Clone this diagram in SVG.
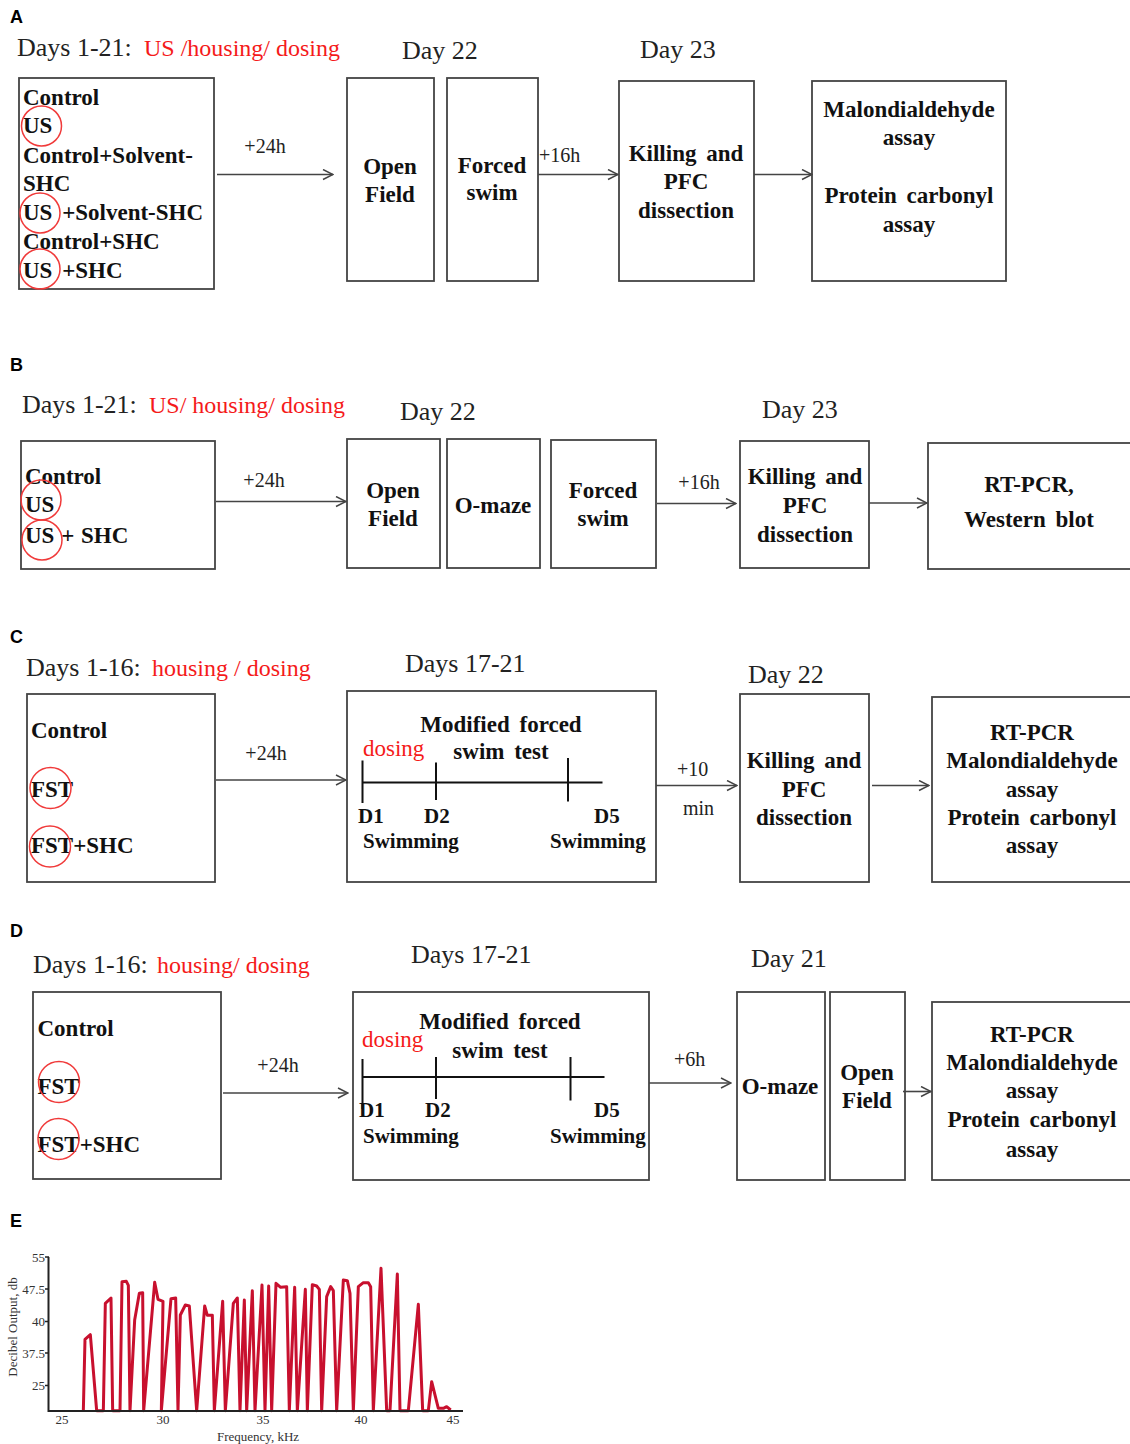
<svg xmlns="http://www.w3.org/2000/svg" width="1130" height="1444" viewBox="0 0 1130 1444">
<style>
.box{fill:#fff;stroke:#444;stroke-width:1.8}
.b{font-family:"Liberation Serif",serif;font-weight:bold;font-size:23px;fill:#111;word-spacing:4px}
.m{text-anchor:middle}
.s{font-size:21px;word-spacing:0}
.h{font-family:"Liberation Serif",serif;font-size:26px;fill:#222}
.r{font-family:"Liberation Serif",serif;font-size:24px;fill:#f51a1a}
.lbl{font-family:"Liberation Serif",serif;font-size:20px;fill:#222}
.pl{font-family:"Liberation Sans",Arial,sans-serif;font-weight:bold;font-size:18px;fill:#000}
.circ{fill:none;stroke:#f03a3a;stroke-width:1.5}
.conn{stroke:#444;stroke-width:1.6;fill:none;marker-end:url(#ah)}
.tl{stroke:#111;stroke-width:2;fill:none}
.ax{font-family:"Liberation Serif",serif;font-size:13px;fill:#333}
</style>
<defs>
<marker id="ah" markerUnits="userSpaceOnUse" markerWidth="12" markerHeight="12" viewBox="0 0 12 12" refX="11" refY="6" orient="auto">
<path d="M1,1 L11,6 L1,11" fill="none" stroke="#444" stroke-width="1.5"/>
</marker>
</defs>
<rect width="1130" height="1444" fill="#fff"/>

<!-- Panel A -->
<g id="panelA-labels">
<text class="pl" x="10" y="23">A</text>
<text class="h" x="17" y="56">Days 1-21:</text>
<text class="r" x="144" y="56">US /housing/ dosing</text>
<text class="h" x="402" y="59">Day 22</text>
<text class="h" x="640" y="58">Day 23</text>
</g>
<g id="A-groups">
<rect class="box" x="19" y="78" width="195" height="211"/>
<text class="b" x="23" y="105">Control</text>
<text class="b" x="23" y="133">US</text>
<text class="b" x="23" y="163">Control+Solvent-</text>
<text class="b" x="23" y="191">SHC</text>
<text class="b" x="23" y="220">US +Solvent-SHC</text>
<text class="b" x="23" y="249">Control+SHC</text>
<text class="b" x="23" y="278">US +SHC</text>
<circle class="circ" cx="41.5" cy="126" r="20"/>
<circle class="circ" cx="40" cy="213" r="20"/>
<circle class="circ" cx="40" cy="269" r="20"/>
</g>
<g id="A-openfield">
<rect class="box" x="347" y="78" width="87" height="203"/>
<text class="b m" x="390" y="174">Open</text>
<text class="b m" x="390" y="202">Field</text>
</g>
<g id="A-forcedswim">
<rect class="box" x="447" y="78" width="91" height="203"/>
<text class="b m" x="492" y="173">Forced</text>
<text class="b m" x="492" y="200">swim</text>
</g>
<g id="A-killing">
<rect class="box" x="619" y="81" width="135" height="200"/>
<text class="b m" x="686" y="161">Killing and</text>
<text class="b m" x="686" y="189">PFC</text>
<text class="b m" x="686" y="218">dissection</text>
</g>
<g id="A-assays">
<rect class="box" x="812" y="81" width="194" height="200"/>
<text class="b m" x="909" y="117">Malondialdehyde</text>
<text class="b m" x="909" y="145">assay</text>
<text class="b m" x="909" y="203">Protein carbonyl</text>
<text class="b m" x="909" y="232">assay</text>
</g>

<!-- Panel B -->
<g id="panelB-labels">
<text class="pl" x="10" y="371">B</text>
<text class="h" x="22" y="413">Days 1-21:</text>
<text class="r" x="149" y="413">US/ housing/ dosing</text>
<text class="h" x="400" y="420">Day 22</text>
<text class="h" x="762" y="418">Day 23</text>
</g>
<g id="B-groups">
<rect class="box" x="21" y="441" width="194" height="128"/>
<text class="b" x="25" y="484">Control</text>
<text class="b" x="25" y="512">US</text>
<text class="b" x="25" y="543" style="word-spacing:1px">US + SHC</text>
<circle class="circ" cx="41" cy="500" r="20"/>
<circle class="circ" cx="42" cy="540" r="20"/>
</g>
<g id="B-openfield">
<rect class="box" x="347" y="439" width="93" height="129"/>
<text class="b m" x="393" y="498">Open</text>
<text class="b m" x="393" y="526">Field</text>
</g>
<g id="B-omaze">
<rect class="box" x="447" y="439" width="93" height="129"/>
<text class="b m" x="493" y="513">O-maze</text>
</g>
<g id="B-forcedswim">
<rect class="box" x="551" y="440" width="105" height="128"/>
<text class="b m" x="603" y="498">Forced</text>
<text class="b m" x="603" y="526">swim</text>
</g>
<g id="B-killing">
<rect class="box" x="740" y="441" width="129" height="127"/>
<text class="b m" x="805" y="484">Killing and</text>
<text class="b m" x="805" y="513">PFC</text>
<text class="b m" x="805" y="542">dissection</text>
</g>
<g id="B-analysis">
<rect class="box" x="928" y="443" width="210" height="126"/>
<text class="b m" x="1029" y="492">RT-PCR,</text>
<text class="b m" x="1029" y="527">Western blot</text>
</g>

<!-- Panel C -->
<g id="panelC-labels">
<text class="pl" x="10" y="643">C</text>
<text class="h" x="26" y="676">Days 1-16:</text>
<text class="r" x="152" y="676">housing / dosing</text>
<text class="h" x="405" y="672">Days 17-21</text>
<text class="h" x="748" y="683">Day 22</text>
</g>
<g id="C-groups">
<rect class="box" x="27" y="694" width="188" height="188"/>
<text class="b" x="31" y="738">Control</text>
<text class="b" x="31" y="797">FST</text>
<text class="b" x="31" y="853">FST+SHC</text>
<circle class="circ" cx="50.5" cy="788" r="20.5"/>
<circle class="circ" cx="50" cy="846.5" r="20.5"/>
</g>
<g id="C-mfst">
<rect class="box" x="347" y="691" width="309" height="191"/>
<text class="b m" x="501" y="732">Modified forced</text>
<text class="b m" x="501" y="759">swim test</text>
<text class="r" x="363" y="756" style="font-size:23px">dosing</text>
<path class="tl" d="M362,782.5 H602.5 M362.5,760.5 V803 M436,762.5 V800 M568,758 V801.5"/>
<text class="b s" x="358" y="823">D1</text>
<text class="b s" x="424" y="823">D2</text>
<text class="b s" x="594" y="823">D5</text>
<text class="b s" x="363" y="848">Swimming</text>
<text class="b s" x="550" y="848">Swimming</text>
</g>
<g id="C-killing">
<rect class="box" x="740" y="694" width="129" height="188"/>
<text class="b m" x="804" y="768">Killing and</text>
<text class="b m" x="804" y="797">PFC</text>
<text class="b m" x="804" y="825">dissection</text>
</g>
<g id="C-analysis">
<rect class="box" x="932" y="697" width="206" height="185"/>
<text class="b m" x="1032" y="740">RT-PCR</text>
<text class="b m" x="1032" y="768">Malondialdehyde</text>
<text class="b m" x="1032" y="797">assay</text>
<text class="b m" x="1032" y="825">Protein carbonyl</text>
<text class="b m" x="1032" y="853">assay</text>
</g>

<!-- Panel D -->
<g id="panelD-labels">
<text class="pl" x="10" y="937">D</text>
<text class="h" x="33" y="973">Days 1-16:</text>
<text class="r" x="157" y="973">housing/ dosing</text>
<text class="h" x="411" y="963">Days 17-21</text>
<text class="h" x="751" y="967">Day 21</text>
</g>
<g id="D-groups">
<rect class="box" x="33" y="992" width="188" height="187"/>
<text class="b" x="37.5" y="1036">Control</text>
<text class="b" x="37.5" y="1094">FST</text>
<text class="b" x="37.5" y="1152">FST+SHC</text>
<circle class="circ" cx="59" cy="1082" r="20.5"/>
<circle class="circ" cx="58.5" cy="1139" r="20.5"/>
</g>
<g id="D-mfst">
<rect class="box" x="353" y="992" width="296" height="188"/>
<text class="b m" x="500" y="1029">Modified forced</text>
<text class="b m" x="500" y="1058">swim test</text>
<text class="r" x="362" y="1047" style="font-size:23px">dosing</text>
<path class="tl" d="M362,1077 H604.5 M362.5,1059 V1109 M436,1057 V1099 M570.5,1057 V1100.5"/>
<text class="b s" x="359" y="1117">D1</text>
<text class="b s" x="425" y="1117">D2</text>
<text class="b s" x="594" y="1117">D5</text>
<text class="b s" x="363" y="1143">Swimming</text>
<text class="b s" x="550" y="1143">Swimming</text>
</g>
<g id="D-omaze">
<rect class="box" x="737" y="992" width="88" height="188"/>
<text class="b m" x="780" y="1094">O-maze</text>
</g>
<g id="D-openfield">
<rect class="box" x="830" y="992" width="75" height="188"/>
<text class="b m" x="867" y="1080">Open</text>
<text class="b m" x="867" y="1108">Field</text>
</g>
<g id="D-analysis">
<rect class="box" x="932" y="1002" width="206" height="178"/>
<text class="b m" x="1032" y="1042">RT-PCR</text>
<text class="b m" x="1032" y="1070">Malondialdehyde</text>
<text class="b m" x="1032" y="1098">assay</text>
<text class="b m" x="1032" y="1127">Protein carbonyl</text>
<text class="b m" x="1032" y="1157">assay</text>
</g>

<!-- Connectors -->
<g id="connectors">
<line class="conn" x1="217" y1="174.5" x2="333" y2="174.5"/>
<line class="conn" x1="538" y1="174.5" x2="618" y2="174.5"/>
<line class="conn" x1="754" y1="174.5" x2="812" y2="174.5"/>
<line class="conn" x1="216" y1="501.5" x2="346" y2="501.5"/>
<line class="conn" x1="657" y1="503.5" x2="736" y2="503.5"/>
<line class="conn" x1="869" y1="503" x2="927" y2="503"/>
<line class="conn" x1="216" y1="780" x2="346" y2="780"/>
<line class="conn" x1="656" y1="785.5" x2="737" y2="785.5"/>
<line class="conn" x1="872" y1="785.5" x2="929" y2="785.5"/>
<line class="conn" x1="223" y1="1093" x2="348" y2="1093"/>
<line class="conn" x1="649" y1="1083" x2="731" y2="1083"/>
<line class="conn" x1="903" y1="1091.5" x2="931" y2="1091.5"/>
<text class="lbl" x="265" y="153" text-anchor="middle">+24h</text>
<text class="lbl" x="539" y="162">+16h</text>
<text class="lbl" x="264" y="487" text-anchor="middle">+24h</text>
<text class="lbl" x="699" y="489" text-anchor="middle">+16h</text>
<text class="lbl" x="266" y="760" text-anchor="middle">+24h</text>
<text class="lbl" x="677" y="776">+10</text>
<text class="lbl" x="683" y="815">min</text>
<text class="lbl" x="278" y="1072" text-anchor="middle">+24h</text>
<text class="lbl" x="674" y="1066">+6h</text>
</g>

<!-- Panel E -->
<g id="panelE">
<text class="pl" x="10" y="1227">E</text>
<g transform="translate(0,1200) scale(0.3333333)">
<path fill="none" stroke="#c8102e" stroke-width="9" stroke-linejoin="round" d="M250,632 L255,418 L271,404 L290,632 L310,632 L316,310 L333,294 L338,632 L360,632 L366,245 L379,244 L385,256 L390,632 L404,360 L418,280 L428,278 L431,632 L464,247 L474,298 L489,304 L484,632 L513,296 L527,294 L534,632 L541,345 L556,315 L568,318 L590,632 L614,318 L622,346 L637,346 L643,632 L668,304 L676,632 L700,310 L712,294 L720,632 L733,300 L740,632 L757,272 L765,632 L786,255 L795,632 L806,258 L815,632 L828,250 L842,262 L860,260 L868,632 L884,262 L892,632 L916,268 L922,632 L937,254 L950,258 L958,268 L965,632 L980,290 L992,260 L1000,272 L1010,632 L1030,240 L1042,242 L1050,280 L1060,632 L1075,260 L1090,248 L1105,248 L1112,260 L1120,632 L1143,205 L1160,632 L1170,632 L1192,222 L1200,632 L1225,632 L1255,313 L1268,632 L1285,632 L1295,545 L1315,625 L1330,625 L1340,620 L1352,630"/>
</g>
<path d="M48.5,1257 V1411 H463" fill="none" stroke="#222" stroke-width="2"/>
<path d="M45,1257 H49 M45,1289 H49 M45,1321.5 H49 M45,1353 H49 M45,1385.5 H49" stroke="#222" stroke-width="1.5"/>
<g class="ax" text-anchor="end">
<text x="45" y="1261.5">55</text>
<text x="45" y="1293.5">47.5</text>
<text x="45" y="1326">40</text>
<text x="45" y="1357.5">37.5</text>
<text x="45" y="1390">25</text>
</g>
<g class="ax" text-anchor="middle">
<text x="62" y="1424">25</text>
<text x="163" y="1424">30</text>
<text x="263" y="1424">35</text>
<text x="361" y="1424">40</text>
<text x="453" y="1424">45</text>
<text x="258" y="1441">Frequency, kHz</text>
<text transform="translate(17,1327) rotate(-90)">Decibel Output, db</text>
</g>
</g>
</svg>
